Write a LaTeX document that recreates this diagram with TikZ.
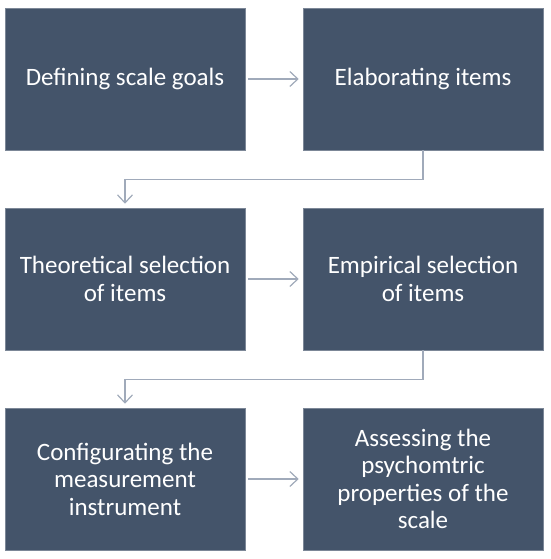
\documentclass[tikz,border=0pt]{standalone}
\usepackage{fontspec}
\setmainfont{Carlito}
\usetikzlibrary{arrows.meta}
\definecolor{boxfill}{HTML}{44546A}
\definecolor{conn}{RGB}{160,170,186}
\begin{document}
\begin{tikzpicture}[x=1pt,y=1pt,
  stepbox/.style={rectangle, fill=boxfill, draw=boxfill!70!white, line width=0.6pt,
    minimum width=240pt, minimum height=142pt, inner sep=0pt,
    text=white, align=center, font=\fontsize{25}{27.5}\selectfont},
  flow/.style={draw=conn, line width=1.4pt,
    -{Straight Barb[length=8pt,width=15pt,line width=1.2pt]}}]
\useasboundingbox (0,0) rectangle (550,-559);
\node[stepbox] (a) at (125,-79) {Defining scale goals};
\node[stepbox] (b) at (423,-79) {Elaborating items};
\node[stepbox] (c) at (125,-279) {Theoretical selection\\of items};
\node[stepbox] (d) at (423,-279) {Empirical selection\\of items};
\node[stepbox] (e) at (125,-479) {Configurating the\\measurement\\instrument};
\node[stepbox] (f) at (423,-479) {Assessing the\\psychomtric\\properties of the\\scale};
\draw[flow, shorten <=3pt, shorten >=4pt] (a) -- (b);
\draw[flow, shorten <=3pt, shorten >=4pt] (c) -- (d);
\draw[flow, shorten <=3pt, shorten >=4pt] (e) -- (f);
\draw[flow, shorten >=4pt] (b.south) -- ++(0,-29) -| (c.north);
\draw[flow, shorten >=4pt] (d.south) -- ++(0,-29) -| (e.north);
\end{tikzpicture}
\end{document}
